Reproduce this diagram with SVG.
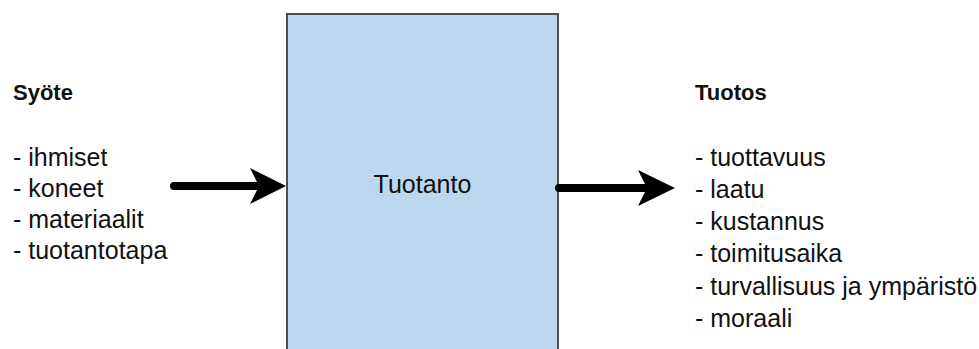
<svg xmlns="http://www.w3.org/2000/svg" width="979" height="349" viewBox="0 0 979 349">
<style>
text{font-family:"Liberation Sans",Arial,sans-serif;fill:#111}
.h{font-size:22px;font-weight:bold}
.t{font-size:25px}
.ln{stroke:#000;stroke-width:8;stroke-linecap:round;fill:none}
.hd{fill:#000}
</style>
<rect width="979" height="349" fill="#fff"/>
<g id="input">
<text class="h" x="13" y="100">Syöte</text>
<text class="t" x="13" y="166">- ihmiset</text>
<text class="t" x="13" y="197">- koneet</text>
<text class="t" x="13" y="228">- materiaalit</text>
<text class="t" x="13" y="259">- tuotantotapa</text>
</g>
<g id="production">
<rect x="287" y="14" width="271" height="400" fill="#bdd7ee" stroke="#4a4d52" stroke-width="2"/>
<text class="t" x="422.5" y="193" text-anchor="middle">Tuotanto</text>
</g>
<g id="output">
<text class="h" x="695" y="100">Tuotos</text>
<text class="t" x="695" y="166">- tuottavuus</text>
<text class="t" x="695" y="198">- laatu</text>
<text class="t" x="695" y="230">- kustannus</text>
<text class="t" x="695" y="262">- toimitusaika</text>
<text class="t" x="695" y="295">- turvallisuus ja ympäristö</text>
<text class="t" x="695" y="327">- moraali</text>
</g>
<g id="connectors">
<line class="ln" x1="174" y1="186" x2="258" y2="186"/>
<path class="hd" d="M286,186 L250,168 L259,186 L250,204 Z"/>
<line class="ln" x1="559" y1="188" x2="646" y2="188"/>
<path class="hd" d="M675,188 L638,170 L647,188 L638,206 Z"/>
</g>
</svg>
